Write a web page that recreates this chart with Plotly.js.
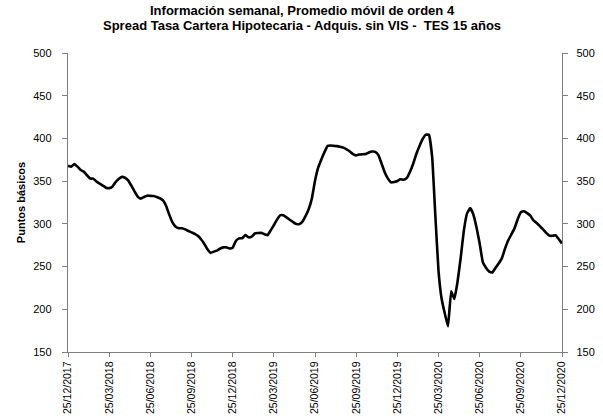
<!DOCTYPE html>
<html>
<head>
<meta charset="utf-8">
<script src="https://cdn.plot.ly/plotly-3.0.1.min.js"></script>
<style>html,body{margin:0;padding:0;background:#fff;}#chart{width:603px;height:419px;}</style>
</head>
<body>
<div id="chart"></div>
<script>
// Weekly spread values (puntos básicos), 25/12/2017 .. 25/12/2020, 4-week moving average
const spread = [
  368, 367, 370, 367, 363, 361, 357, 353, 353, 349.5,
  347, 344.8, 342.3, 341.8, 343.5, 348.7, 352.4, 355, 354, 351,
  344.8, 338, 332, 329.5, 331.5, 333, 332.8, 332.5, 331.5, 330,
  327.5, 321, 310.5, 301.7, 296.5, 294.8, 294.8, 293.5, 291.7, 290,
  288.3, 286, 282, 276.8, 270.5, 266, 267.4, 268.7, 271, 272.5,
  272.5, 271.2, 272, 280, 283, 283.2, 286.8, 284.2, 285, 288.8,
  289.3, 289.6, 287.9, 286.7, 292.4, 298.3, 305, 310, 310, 307.6,
  304.8, 302.4, 300, 299.6, 302.4, 309, 317, 329.5, 350.4, 365.8,
  375.4, 384, 391.3, 391.7, 391.3, 391, 390.1, 389.2, 387.1, 384.7,
  381.7, 380.2, 381.2, 381.4, 381.8, 383.5, 384.6, 384.3, 380.6, 370.8,
  360.5, 353.3, 348.6, 349, 350.2, 352.3, 351.6, 353.8, 361, 370.4,
  381.8, 391.2, 399.3, 404.5, 404, 378, 310, 245, 212, 195,
  180, 221, 212, 232, 260, 292, 312, 318.4, 311, 296,
  277, 255, 248.6, 244, 243, 248.4, 253.6, 259.6, 271, 280.5,
  287.6, 294.7, 305.5, 313.7, 314.8, 312.5, 309.5, 304, 301, 297.3,
  293.5, 289.5, 286.2, 286, 286.7, 282, 277
];
const weekIndex = spread.map((_, i) => i);
const tickLabels = [
  "25/12/2017", "25/03/2018", "25/06/2018", "25/09/2018", "25/12/2018",
  "25/03/2019", "25/06/2019", "25/09/2019", "25/12/2019", "25/03/2020",
  "25/06/2020", "25/09/2020", "25/12/2020"
];
const tickPositions = tickLabels.map((_, i) => i * 13);
const yTicks = [150, 200, 250, 300, 350, 400, 450, 500];
const titleLines = [
  "Información semanal, Promedio móvil de orden 4",
  "Spread Tasa Cartera Hipotecaria - Adquis. sin VIS -&nbsp; TES 15 años"
];

const font = "Liberation Sans, Arial, sans-serif";
const axisColor = "#7f7f7f";

const trace = {
  x: weekIndex, y: spread, type: "scatter", mode: "lines",
  line: {color: "#000000", width: 2.6, shape: "spline", smoothing: 0.3},
  hoverinfo: "skip", showlegend: false
};
const traceRight = {
  x: weekIndex, y: spread, type: "scatter", mode: "lines", yaxis: "y2",
  line: {color: "rgba(0,0,0,0)", width: 0}, hoverinfo: "skip", showlegend: false
};

const plotTop = 53, plotH = 299;
const annotations = titleLines.map((t, i) => ({
  text: "<b>" + t + "</b>", showarrow: false,
  xref: "paper", x: (302 - 68) / 494, xanchor: "center",
  yref: "paper", y: 1 + (plotTop - (10 + 15 * i)) / plotH, yanchor: "middle",
  font: {family: font, size: 13, color: "#000000"}
}));

const layout = {
  width: 603, height: 419,
  margin: {l: 68, r: 41, t: 53, b: 67},
  paper_bgcolor: "#ffffff", plot_bgcolor: "#ffffff",
  font: {family: font, size: 11, color: "#000000"},
  annotations: annotations,
  xaxis: {
    range: [0, 156], tickmode: "array", tickvals: tickPositions, ticktext: tickLabels,
    tickangle: -90, tickfont: {family: font, size: 10.5, color: "#000000"},
    showgrid: false, zeroline: false, showline: true, linecolor: axisColor, linewidth: 1.3,
    ticks: "outside", ticklen: 4, tickcolor: axisColor, tickwidth: 1, fixedrange: true
  },
  yaxis: {
    range: [150, 500], tickmode: "array", tickvals: yTicks,
    showgrid: false, zeroline: false, showline: true, linecolor: axisColor, linewidth: 1.3,
    ticks: "outside", ticklen: 5, tickcolor: axisColor, tickwidth: 1,
    tickfont: {family: font, size: 11, color: "#000000"}, ticklabelstandoff: 8,
    title: {text: "<b>Puntos básicos</b>", font: {family: font, size: 11, color: "#000000"}, standoff: 5}
  },
  yaxis2: {
    range: [150, 500], tickmode: "array", tickvals: yTicks, overlaying: "y", side: "right",
    showgrid: false, zeroline: false, showline: true, linecolor: axisColor, linewidth: 1.3,
    ticks: "outside", ticklen: 5, tickcolor: axisColor, tickwidth: 1,
    tickfont: {family: font, size: 11, color: "#000000"}, ticklabelstandoff: 6
  }
};

Plotly.newPlot("chart", [trace, traceRight], layout, {staticPlot: true, displayModeBar: false});
</script>
</body>
</html>
